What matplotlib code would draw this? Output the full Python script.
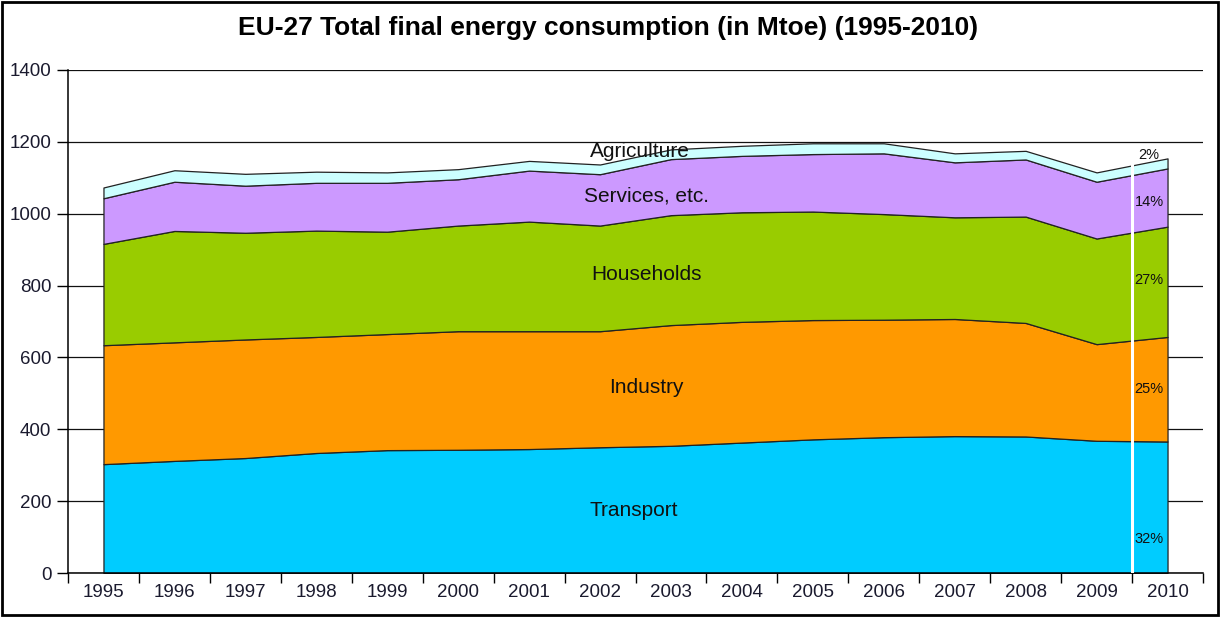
import numpy as np
import matplotlib
matplotlib.use('Agg')
import matplotlib.pyplot as plt
from matplotlib.patches import Rectangle

plt.rcParams['font.family'] = ['Liberation Sans', 'DejaVu Sans']

# Data (Mtoe)
years = ['1995', '1996', '1997', '1998', '1999', '2000', '2001', '2002',
         '2003', '2004', '2005', '2006', '2007', '2008', '2009', '2010']
transport = [303, 312, 320, 334, 342, 343, 345, 350, 354, 363, 372, 378, 381, 380, 368, 366]
industry = [331, 330, 330, 323, 323, 330, 328, 323, 336, 336, 332, 327, 326, 316, 269, 291]
households = [282, 310, 297, 296, 285, 294, 305, 294, 306, 305, 302, 294, 283, 296, 294, 307]
services = [127, 137, 131, 133, 136, 129, 142, 143, 156, 157, 160, 169, 153, 159, 158, 162]
agriculture = [30, 32, 33, 31, 29, 28, 27, 27, 27, 28, 30, 28, 25, 24, 26, 28]

sector_names = ['Transport', 'Industry', 'Households', 'Services, etc.', 'Agriculture']
sector_colors = ['#00CCFF', '#FF9900', '#99CC00', '#CC99FF', '#CCFFFF']
share_labels = ['32%', '25%', '27%', '14%', '2%']

fig = plt.figure(figsize=(12.2, 6.17), dpi=100)
ax = fig.add_axes([68 / 1220, 1 - 573 / 617, (1203 - 68) / 1220, (573 - 70) / 617])

x = np.arange(len(years)) + 0.5
series = [transport, industry, households, services, agriculture]
ax.stackplot(x, *series, colors=sector_colors, edgecolor='#222222', linewidth=0.9, zorder=2)

# white separator between 2009 and 2010
total = np.sum(series, axis=0)
ax.vlines(15, 0, np.interp(15, x, total) + 6, color='white', lw=2.2, zorder=3)

ax.set_xlim(0, 16)
ax.set_ylim(0, 1400)
ax.set_yticks(np.arange(0, 1401, 200))
ax.yaxis.grid(True, color='#111111', lw=0.9, zorder=0)
ax.set_axisbelow(True)

ax.set_xticks(np.arange(17))
ax.set_xticklabels([])
ax.set_xticks(x, minor=True)
ax.set_xticklabels(years, minor=True)
ax.tick_params(axis='x', which='major', length=7, width=1, color='black', direction='out')
ax.tick_params(axis='x', which='minor', length=0, pad=8, labelsize=13.5, labelcolor='#1a1a2e')
ax.tick_params(axis='y', length=8, width=1, direction='out', pad=4, labelsize=13.5,
               labelcolor='#1a1a2e')

for s in ['top', 'right']:
    ax.spines[s].set_visible(False)
for s in ['left', 'bottom']:
    ax.spines[s].set_linewidth(1.1)
    ax.spines[s].set_color('black')

# sector names
name_pos = [(7.98, 175), (8.15, 515), (8.15, 832), (8.15, 1049), (8.06, 1172)]
for name, (px, py) in zip(sector_names, name_pos):
    ax.text(px, py, name, ha='center', va='center', fontsize=15, color='#111111', zorder=4)

# 2010 shares
share_y = [95, 512, 815, 1033, 1163]
for lab, py in zip(share_labels, share_y):
    ax.text(15.24, py, lab, ha='center', va='center', fontsize=10.5, color='#111111', zorder=4)

fig.text(0.4985, 1 - 28 / 617, 'EU-27 Total final energy consumption (in Mtoe) (1995-2010)',
         ha='center', va='center', fontsize=19, fontweight='bold')

fig.patches.append(Rectangle((0.002, 0.003), 0.996, 0.994, transform=fig.transFigure,
                             fill=False, edgecolor='black', linewidth=2))

fig.savefig('out.png', dpi=100)
